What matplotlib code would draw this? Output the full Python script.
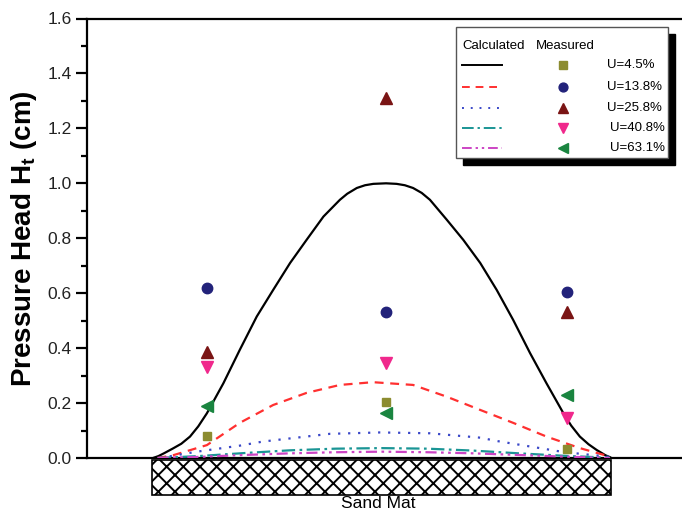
import matplotlib
matplotlib.use("Agg")
import matplotlib.pyplot as plt
from matplotlib.patches import Rectangle
from matplotlib.lines import Line2D

plt.rcParams['font.family'] = ['Liberation Sans', 'DejaVu Sans']
plt.rcParams['hatch.linewidth'] = 1.4

# position across the sand mat (0 = left edge, 1 = right edge)
x_black = [0.0, 0.012, 0.025, 0.044, 0.062, 0.081, 0.099, 0.118, 0.154, 0.190,
           0.227, 0.263, 0.300, 0.336, 0.373, 0.409, 0.425, 0.446, 0.464, 0.482,
           0.510, 0.533, 0.551, 0.569, 0.588, 0.606, 0.643, 0.679, 0.716, 0.752,
           0.788, 0.825, 0.861, 0.898, 0.915, 0.934, 0.953, 0.971, 0.99, 1.0]
h_black = [0.0, 0.007, 0.018, 0.035, 0.052, 0.078, 0.115, 0.163, 0.272, 0.394,
           0.515, 0.612, 0.710, 0.794, 0.879, 0.940, 0.962, 0.983, 0.993, 0.998,
           1.0, 0.998, 0.993, 0.983, 0.965, 0.940, 0.867, 0.794, 0.710, 0.612,
           0.503, 0.382, 0.272, 0.163, 0.118, 0.078, 0.050, 0.029, 0.010, 0.003]

x_red = [0.01, 0.044, 0.118, 0.190, 0.263, 0.336, 0.409, 0.481, 0.569, 0.643,
         0.716, 0.788, 0.861, 0.934, 1.0]
h_red = [0.0, 0.01, 0.047, 0.128, 0.193, 0.237, 0.266, 0.276, 0.266, 0.223,
         0.175, 0.128, 0.078, 0.036, 0.005]

x_blue = [0.015, 0.096, 0.190, 0.241, 0.387, 0.497, 0.606, 0.716, 0.752, 0.861,
          0.897, 1.0]
h_blue = [0.0, 0.023, 0.045, 0.060, 0.088, 0.093, 0.090, 0.074, 0.062, 0.032,
          0.022, 0.004]

x_teal = [0.01, 0.1, 0.2, 0.3, 0.4, 0.5, 0.6, 0.7, 0.8, 0.9, 1.0]
h_teal = [0.0, 0.007, 0.018, 0.028, 0.034, 0.036, 0.034, 0.027, 0.017, 0.008, 0.001]

x_mag = [0.01, 0.1, 0.2, 0.3, 0.4, 0.5, 0.6, 0.7, 0.8, 0.9, 1.0]
h_mag = [0.0, 0.004, 0.011, 0.017, 0.021, 0.023, 0.021, 0.017, 0.011, 0.005, 0.0]

# measured points at three gauges
x_meas = [0.118, 0.51, 0.906]
m_45 = [0.08, 0.205, 0.032]
m_138 = [0.618, 0.53, 0.606]
m_258 = [0.385, 1.311, 0.531]
m_408 = [0.33, 0.345, 0.145]
m_631 = [0.19, 0.165, 0.23]

labels = ['U=4.5%', 'U=13.8%', 'U=25.8%', 'U=40.8%', 'U=63.1%']

curves = [(x_black, h_black, 'black', '-'),
          (x_red, h_red, '#ff3030', (0, (4, 3))),
          (x_blue, h_blue, '#3a48c8', (0, (1, 3.5))),
          (x_teal, h_teal, '#1a9595', (0, (6, 2, 1.2, 2))),
          (x_mag, h_mag, '#cc44c4', (0, (5, 2, 1.2, 2, 1.2, 2)))]
points = [(m_45, 's', '#8c8c30', 6),
          (m_138, 'o', '#22227a', 7.5),
          (m_258, '^', '#7a1414', 8.5),
          (m_408, 'v', '#f0288c', 8.5),
          (m_631, '<', '#1a8540', 8.5)]

fig = plt.figure(figsize=(6.82, 5.12), dpi=100)
ax = fig.add_axes([87 / 682, 1 - 458 / 512, 1 - 87 / 682, (458 - 18.5) / 512])

for xs, hs, c, ls in curves:
    ax.plot(xs, hs, color=c, linestyle=ls, lw=1.6, zorder=3)
for vals, mk, c, ms in points:
    ax.plot(x_meas, vals, linestyle='none', marker=mk, color=c, markersize=ms, zorder=4)

ax.set_xlim(-0.1444, 1.1575)
ax.set_ylim(0, 1.6)

# sand mat below the surface
mat = Rectangle((-0.003, -0.135), 1.005, 0.128, facecolor='white', edgecolor='black',
                hatch='xx', lw=1.2, clip_on=False, zorder=2)
ax.add_patch(mat)

ax.spines['right'].set_visible(False)
for s in ['left', 'top', 'bottom']:
    ax.spines[s].set_linewidth(1.6)
ax.set_xticks([])
ax.set_yticks([0, 0.2, 0.4, 0.6, 0.8, 1.0, 1.2, 1.4, 1.6])
ax.set_yticks([0.1, 0.3, 0.5, 0.7, 0.9, 1.1, 1.3, 1.5], minor=True)
ax.set_yticklabels(['0.0', '0.2', '0.4', '0.6', '0.8', '1.0', '1.2', '1.4', '1.6'])
ax.tick_params(axis='y', which='major', length=8, width=1.6, labelsize=12.5,
               labelcolor='#222222', pad=3)
ax.tick_params(axis='y', which='minor', length=4.5, width=1.6)
ax.set_ylabel('Pressure Head H$_\\mathregular{t}$ (cm)', fontsize=20,
              fontweight='bold', labelpad=6)

# legend drawn by hand in pixel positions
def fx(px):
    return px / 682


def fy(py):
    return 1 - py / 512


fig.text(fx(378), fy(511.5), 'Sand Mat', ha='center', va='bottom', fontsize=12.5)

T = fig.transFigure
fig.add_artist(Rectangle((fx(463), fy(165.3)), fx(668) - fx(456), fy(27.3) - fy(158.3),
                         transform=T, facecolor='black', edgecolor='black', zorder=10))
fig.add_artist(Rectangle((fx(456), fy(158.3)), fx(668) - fx(456), fy(27.3) - fy(158.3),
                         transform=T, facecolor='white', edgecolor='#555555', lw=1.0, zorder=11))
fig.text(fx(462.7), fy(46), 'Calculated', fontsize=9.5, va='center', ha='left', zorder=12)
fig.text(fx(535.7), fy(46), 'Measured', fontsize=9.5, va='center', ha='left', zorder=12)
rows_y = [65, 86.7, 107.7, 128.3, 148.3]
label_x = [607, 607, 607, 610, 610]
for (xs, hs, c, ls), (vals, mk, mc, ms), lab, ry, lx in zip(curves, points, labels, rows_y, label_x):
    fig.add_artist(Line2D([fx(461.7), fx(501.7)], [fy(ry), fy(ry)], transform=T,
                          color=c, linestyle=ls, lw=1.4, zorder=12))
    fig.add_artist(Line2D([fx(562.7)], [fy(ry)], transform=T, marker=mk, color=mc,
                          markersize=ms * 0.85, linestyle='none', zorder=12))
    fig.text(fx(lx), fy(ry), lab, fontsize=9.5, va='center', ha='left', zorder=12)

fig.savefig('out.png', dpi=100)
